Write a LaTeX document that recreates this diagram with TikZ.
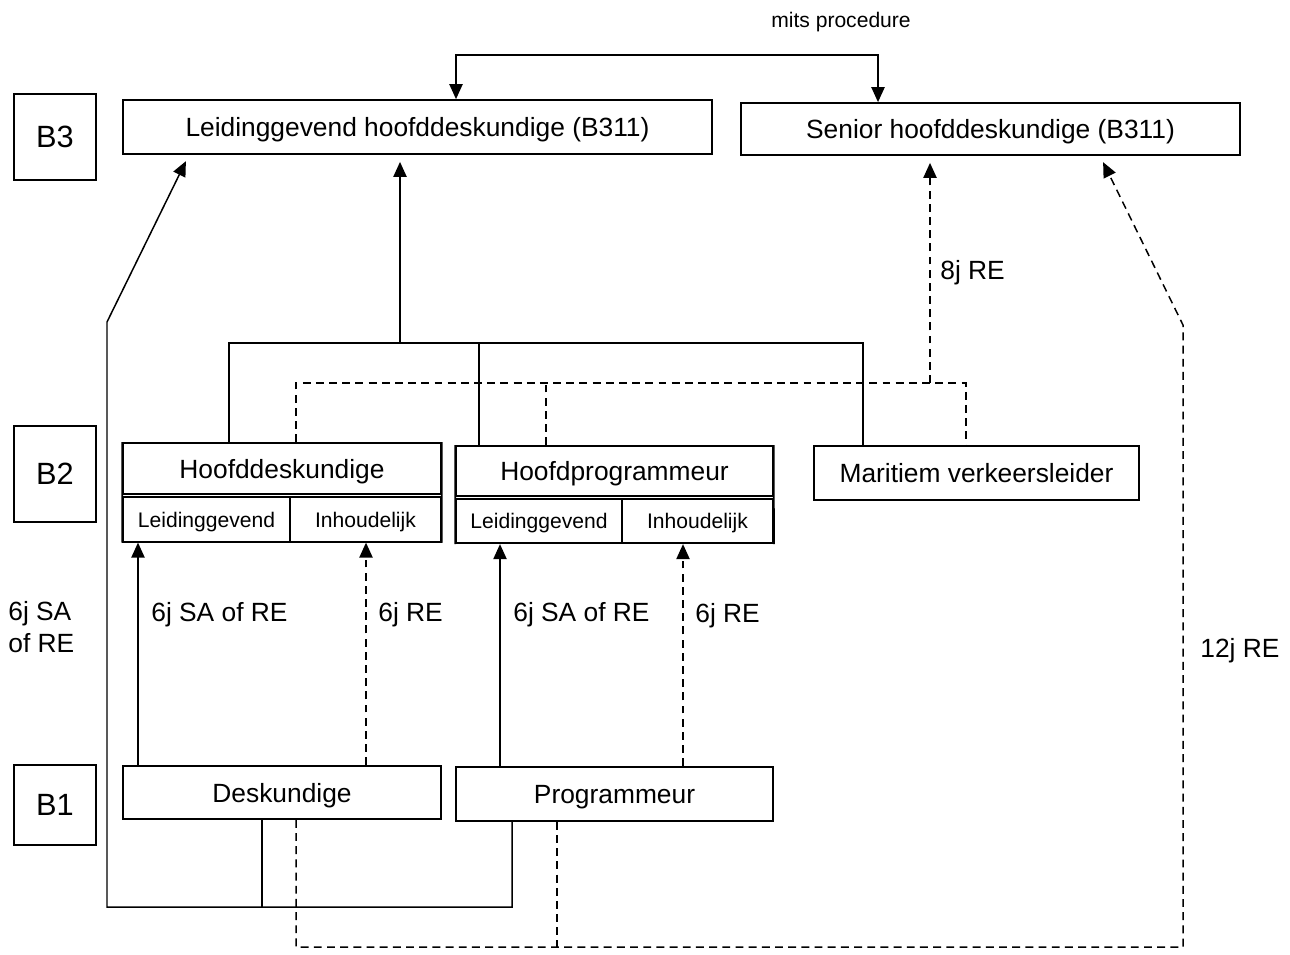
\documentclass[tikz,border=0pt]{standalone}
\usepackage{fontspec}
\setmainfont{Liberation Sans}
\usetikzlibrary{positioning,arrows.meta}

\begin{document}
\begin{tikzpicture}[
        x=0.02cm, y=-0.02cm, % one unit is one pixel of the scan
        box/.style={draw=black, line width=1pt, inner sep=0pt, text depth=0pt, font=\fontsize{15}{18}\selectfont},
        level/.style={box, minimum width=1.64cm, font=\fontsize{17.5}{20}\selectfont},
        cell/.style={box, minimum height=0.89cm, font=\fontsize{12}{14}\selectfont},
        lbl/.style={anchor=west, inner sep=0pt, text depth=0pt, font=\fontsize{15}{18}\selectfont},
        link/.style={line width=0.85pt, draw=black},
        dlink/.style={link, dash pattern=on 4.5pt off 3pt},
        tip/.style={-{Triangle[length=8.5pt, width=7.5pt]}},
        gap/.style={shorten >=4pt}
    ]
    \useasboundingbox (0,0) rectangle (1290,954);

    % Levels
    \node[level, minimum height=1.72cm] (b3) at (55,137) {B3};
    \node[level, minimum height=1.92cm] (b2) at (55,474) {B2};
    \node[level, minimum height=1.60cm] (b1) at (55,805) {B1};

    % B3 functions
    \node[box, minimum width=11.78cm, minimum height=1.08cm] (lhd) at (417.5,127) {Leidinggevend hoofddeskundige (B311)};
    \node[box, minimum width=9.98cm, minimum height=1.04cm] (shd) at (990.5,129) {Senior hoofddeskundige (B311)};
    \node[font=\fontsize{12}{14}\selectfont, inner sep=0pt, text depth=0pt] (mits) at (841,20) {mits procedure};

    % B2 functions
    \node[box, minimum width=6.36cm, minimum height=1.02cm] (hd) at (282,468.5) {Hoofddeskundige};
    \node[cell, minimum width=3.34cm] (hdl) at (206.5,519.5) {Leidinggevend};
    \node[cell, minimum width=3.02cm] (hdi) at (365.5,519.5) {Inhoudelijk};
    \node[box, minimum width=6.34cm, minimum height=1.00cm] (hp) at (614.5,471) {Hoofdprogrammeur};
    \node[cell, minimum width=3.32cm] (hpl) at (539,521) {Leidinggevend};
    \node[cell, minimum width=3.02cm] (hpi) at (697.5,521) {Inhoudelijk};
    \node[box, minimum width=6.5cm, minimum height=1.08cm] (mv) at (976.5,473) {Maritiem verkeersleider};

    % close the double lined boxes
    \draw[line width=1pt] (hd.north west) -- (hdl.south west) (hd.north east) -- (hdi.south east);
    \draw[line width=1pt] (hp.north west) -- (hpl.south west) (hp.north east) -- (hpi.south east);

    % B1 functions
    \node[box, minimum width=6.36cm, minimum height=1.06cm] (desk) at (282,792.5) {Deskundige};
    \node[box, minimum width=6.34cm, minimum height=1.08cm] (prog) at (614.5,794) {Programmeur};

    % Bends
    \coordinate (mp1) at (456,55);
    \coordinate (mp2) at (878,55);
    \coordinate (sbus) at (400,343);
    \coordinate (shd1) at (229,343);
    \coordinate (shp1) at (479,343);
    \coordinate (smv1) at (863,343);
    \coordinate (dbus) at (930,383);
    \coordinate (dhd1) at (296,383);
    \coordinate (dhp1) at (546,383);
    \coordinate (dmv1) at (966,383);
    \coordinate (lb1) at (262,907);
    \coordinate (lb2) at (512,907);
    \coordinate (lb3) at (107,907);
    \coordinate (lb4) at (107,322);
    \coordinate (lb5) at (189,0);
    \coordinate (rb1) at (296,947);
    \coordinate (rb2) at (557,947);
    \coordinate (rb3) at (1183,947);
    \coordinate (rb4) at (1183,325);
    \coordinate (rb5) at (1100,0);
    \coordinate (ul) at (138,0);
    \coordinate (ui) at (366,0);
    \coordinate (pl) at (500,0);
    \coordinate (pi) at (683,0);

    % mits procedure
    \draw[link, {Triangle[length=8.5pt, width=7.5pt]}-{Triangle[length=8.5pt, width=7.5pt]}]
        (lhd.north -| mp1) -- (mp1) -- (mp2) -- (shd.north -| mp2);

    % B2 -> leidinggevend hoofddeskundige
    \draw[link] (hd.north -| shd1) -- (shd1) -- (smv1) -- (mv.north -| smv1);
    \draw[link] (hp.north -| shp1) -- (shp1);
    \draw[link, tip, gap] (sbus) -- (lhd.south -| sbus);

    % B2 -> senior hoofddeskundige
    \draw[dlink] (hd.north -| dhd1) -- (dhd1) -- (dmv1) -- (mv.north -| dmv1);
    \draw[dlink] (hp.north -| dhp1) -- (dhp1);
    \draw[dlink, tip, gap] (dbus) -- (shd.south -| dbus);
    \node[lbl] (l8) at (940,270) {8j RE};

    % B1 -> B2
    \draw[link, tip] (desk.north -| ul) -- (hdl.south -| ul);
    \draw[dlink, tip] (desk.north -| ui) -- (hdi.south -| ui);
    \draw[link, tip] (prog.north -| pl) -- (hpl.south -| pl);
    \draw[dlink, tip] (prog.north -| pi) -- (hpi.south -| pi);
    \node[lbl] (l6a) at (151,612) {6j SA of RE};
    \node[lbl] (l6b) at (378,612) {6j RE};
    \node[lbl] (l6c) at (513,612) {6j SA of RE};
    \node[lbl] (l6d) at (695,613) {6j RE};
    \node[lbl, align=left, font=\fontsize{15}{18.5}\selectfont] (l6e) at (8,627) {6j SA\\of RE};

    % B1 -> B3
    \draw[link] (desk.south -| lb1) -- (lb1);
    \draw[link, tip, gap] (prog.south -| lb2) -- (lb2) -- (lb3) -- (lb4) -- (lhd.south -| lb5);
    \draw[dlink] (prog.south -| rb2) -- (rb2);
    \draw[dlink, tip, gap] (desk.south -| rb1) -- (rb1) -- (rb3) -- (rb4) -- (shd.south -| rb5);
    \node[lbl] (l12) at (1200,648) {12j RE};

\end{tikzpicture}
\end{document}
